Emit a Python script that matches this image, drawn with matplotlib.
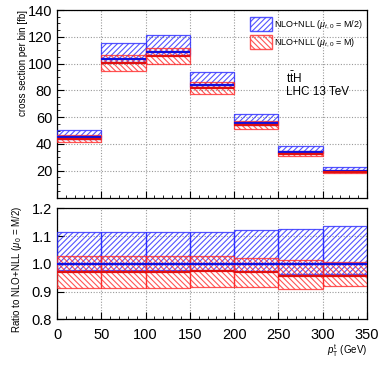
import matplotlib
matplotlib.use("Agg")
import matplotlib.pyplot as plt
import numpy as np
from matplotlib.patches import Patch
from matplotlib.ticker import MultipleLocator, FixedLocator

plt.rcParams['font.family'] = ['Liberation Sans', 'DejaVu Sans']
plt.rcParams['mathtext.fontset'] = 'custom'
plt.rcParams['mathtext.rm'] = 'Liberation Sans'
plt.rcParams['mathtext.it'] = 'Liberation Sans:italic'
plt.rcParams['hatch.linewidth'] = 0.8

# ---- data ----
bin_edges = [0, 50, 100, 150, 200, 250, 300, 350]
xsec_half = [45.0, 103.5, 109.0, 84.0, 55.8, 34.3, 19.8]      # NLO+NLL mu=M/2, fb
ratio_half_hi = [1.113, 1.113, 1.113, 1.116, 1.122, 1.124, 1.135]
ratio_half_lo = [0.978, 0.978, 0.978, 0.978, 0.975, 0.962, 0.962]
ratio_full_c = [0.972, 0.972, 0.972, 0.974, 0.972, 0.956, 0.957]
ratio_full_hi = [1.029, 1.029, 1.027, 1.028, 1.022, 1.012, 1.008]
ratio_full_lo = [0.914, 0.914, 0.914, 0.916, 0.916, 0.909, 0.921]

edges = np.array(bin_edges, float)
left = edges[:-1]
right = edges[1:]
width = np.diff(edges)
c_half = np.array(xsec_half)
BLUE = '#2a2aff'
RED = '#ff2a2a'
HB = '//////'
HR = '\\\\\\\\\\\\'

W, H = 382, 370
fig = plt.figure(figsize=(W / 100, H / 100), dpi=100)
ax1 = fig.add_axes([57 / W, 1 - 197.5 / H, 310 / W, 187.5 / H])
ax2 = fig.add_axes([57 / W, 1 - 319.3 / H, 310 / W, 111 / H])


def draw(ax, cb, blo, bhi, cr, rlo, rhi):
    ax.bar(left, bhi - blo, width=width, bottom=blo, align='edge',
           facecolor='none', edgecolor=BLUE, hatch=HB, linewidth=0.9,
           alpha=0.8, zorder=3)
    ax.bar(left, rhi - rlo, width=width, bottom=rlo, align='edge',
           facecolor='none', edgecolor=RED, hatch=HR, linewidth=0.9,
           alpha=0.8, zorder=3)
    ax.hlines(cb, left, right, color='#1010e0', linewidth=1.6, zorder=4)
    ax.hlines(cr, left, right, color='#e01010', linewidth=1.6, zorder=4)


rh_hi = np.array(ratio_half_hi)
rh_lo = np.array(ratio_half_lo)
rf_c = np.array(ratio_full_c)
rf_hi = np.array(ratio_full_hi)
rf_lo = np.array(ratio_full_lo)

draw(ax1, c_half, c_half * rh_lo, c_half * rh_hi,
     c_half * rf_c, c_half * rf_lo, c_half * rf_hi)
draw(ax2, np.ones_like(c_half), rh_lo, rh_hi, rf_c, rf_lo, rf_hi)

for ax in (ax1, ax2):
    ax.set_xlim(0, 350)
    ax.xaxis.set_major_locator(MultipleLocator(50))
    ax.xaxis.set_minor_locator(MultipleLocator(10))
    ax.grid(True, which='major', color='#999999', linestyle=(0, (1, 1.5)),
            linewidth=0.8, zorder=0)
    ax.tick_params(which='both', direction='in', top=False, right=False,
                   labelsize=10.5)
    ax.tick_params(which='major', length=5, width=0.8)
    ax.tick_params(which='minor', length=2.5, width=0.6)
    for s in ax.spines.values():
        s.set_linewidth(0.9)

ax1.set_ylim(0, 140)
ax1.yaxis.set_major_locator(FixedLocator([20, 40, 60, 80, 100, 120, 140]))
ax1.yaxis.set_minor_locator(MultipleLocator(5))
ax1.tick_params(labelbottom=False)
ax1.set_ylabel('cross section per bin [fb]', fontsize=7, loc='top')
ax1.yaxis.set_label_coords(-0.095, 1.0)

ax2.set_ylim(0.8, 1.2)
ax2.yaxis.set_major_locator(MultipleLocator(0.1))
ax2.yaxis.set_major_formatter(matplotlib.ticker.FormatStrFormatter('%.1f'))
ax2.tick_params(axis='x', which='major', pad=6)
ax2.set_ylabel(r'Ratio to NLO+NLL ($\mu_{0}$ = M/2)', fontsize=7)
ax2.yaxis.set_label_coords(-0.107, 0.45)

ax1.text(259, 89, r't$\bar{\rm t}$H', fontsize=8.5, va='center', ha='left')
ax1.text(259, 78.5, 'LHC 13 TeV', fontsize=8.5, va='center', ha='left')

handles = [Patch(facecolor='none', edgecolor=BLUE, hatch=HB, alpha=0.8),
           Patch(facecolor='none', edgecolor=RED, hatch=HR, alpha=0.8)]
labels = [r'NLO+NLL ($\mu_{t,0}$ = M/2)', r'NLO+NLL ($\mu_{t,0}$ = M)']
ax1.legend(handles, labels, loc='upper right', bbox_to_anchor=(1.005, 0.99),
           frameon=False, fontsize=6.5, handlelength=2.4, handleheight=2.0,
           handletextpad=0.3, labelspacing=0.4, borderaxespad=0.2)

fig.text(367 / W, 1 - 342 / H, r'$p_{\rm T}^{\rm t}$ (GeV)', fontsize=7,
         ha='right', va='top')

fig.savefig('out.png', dpi=100)
